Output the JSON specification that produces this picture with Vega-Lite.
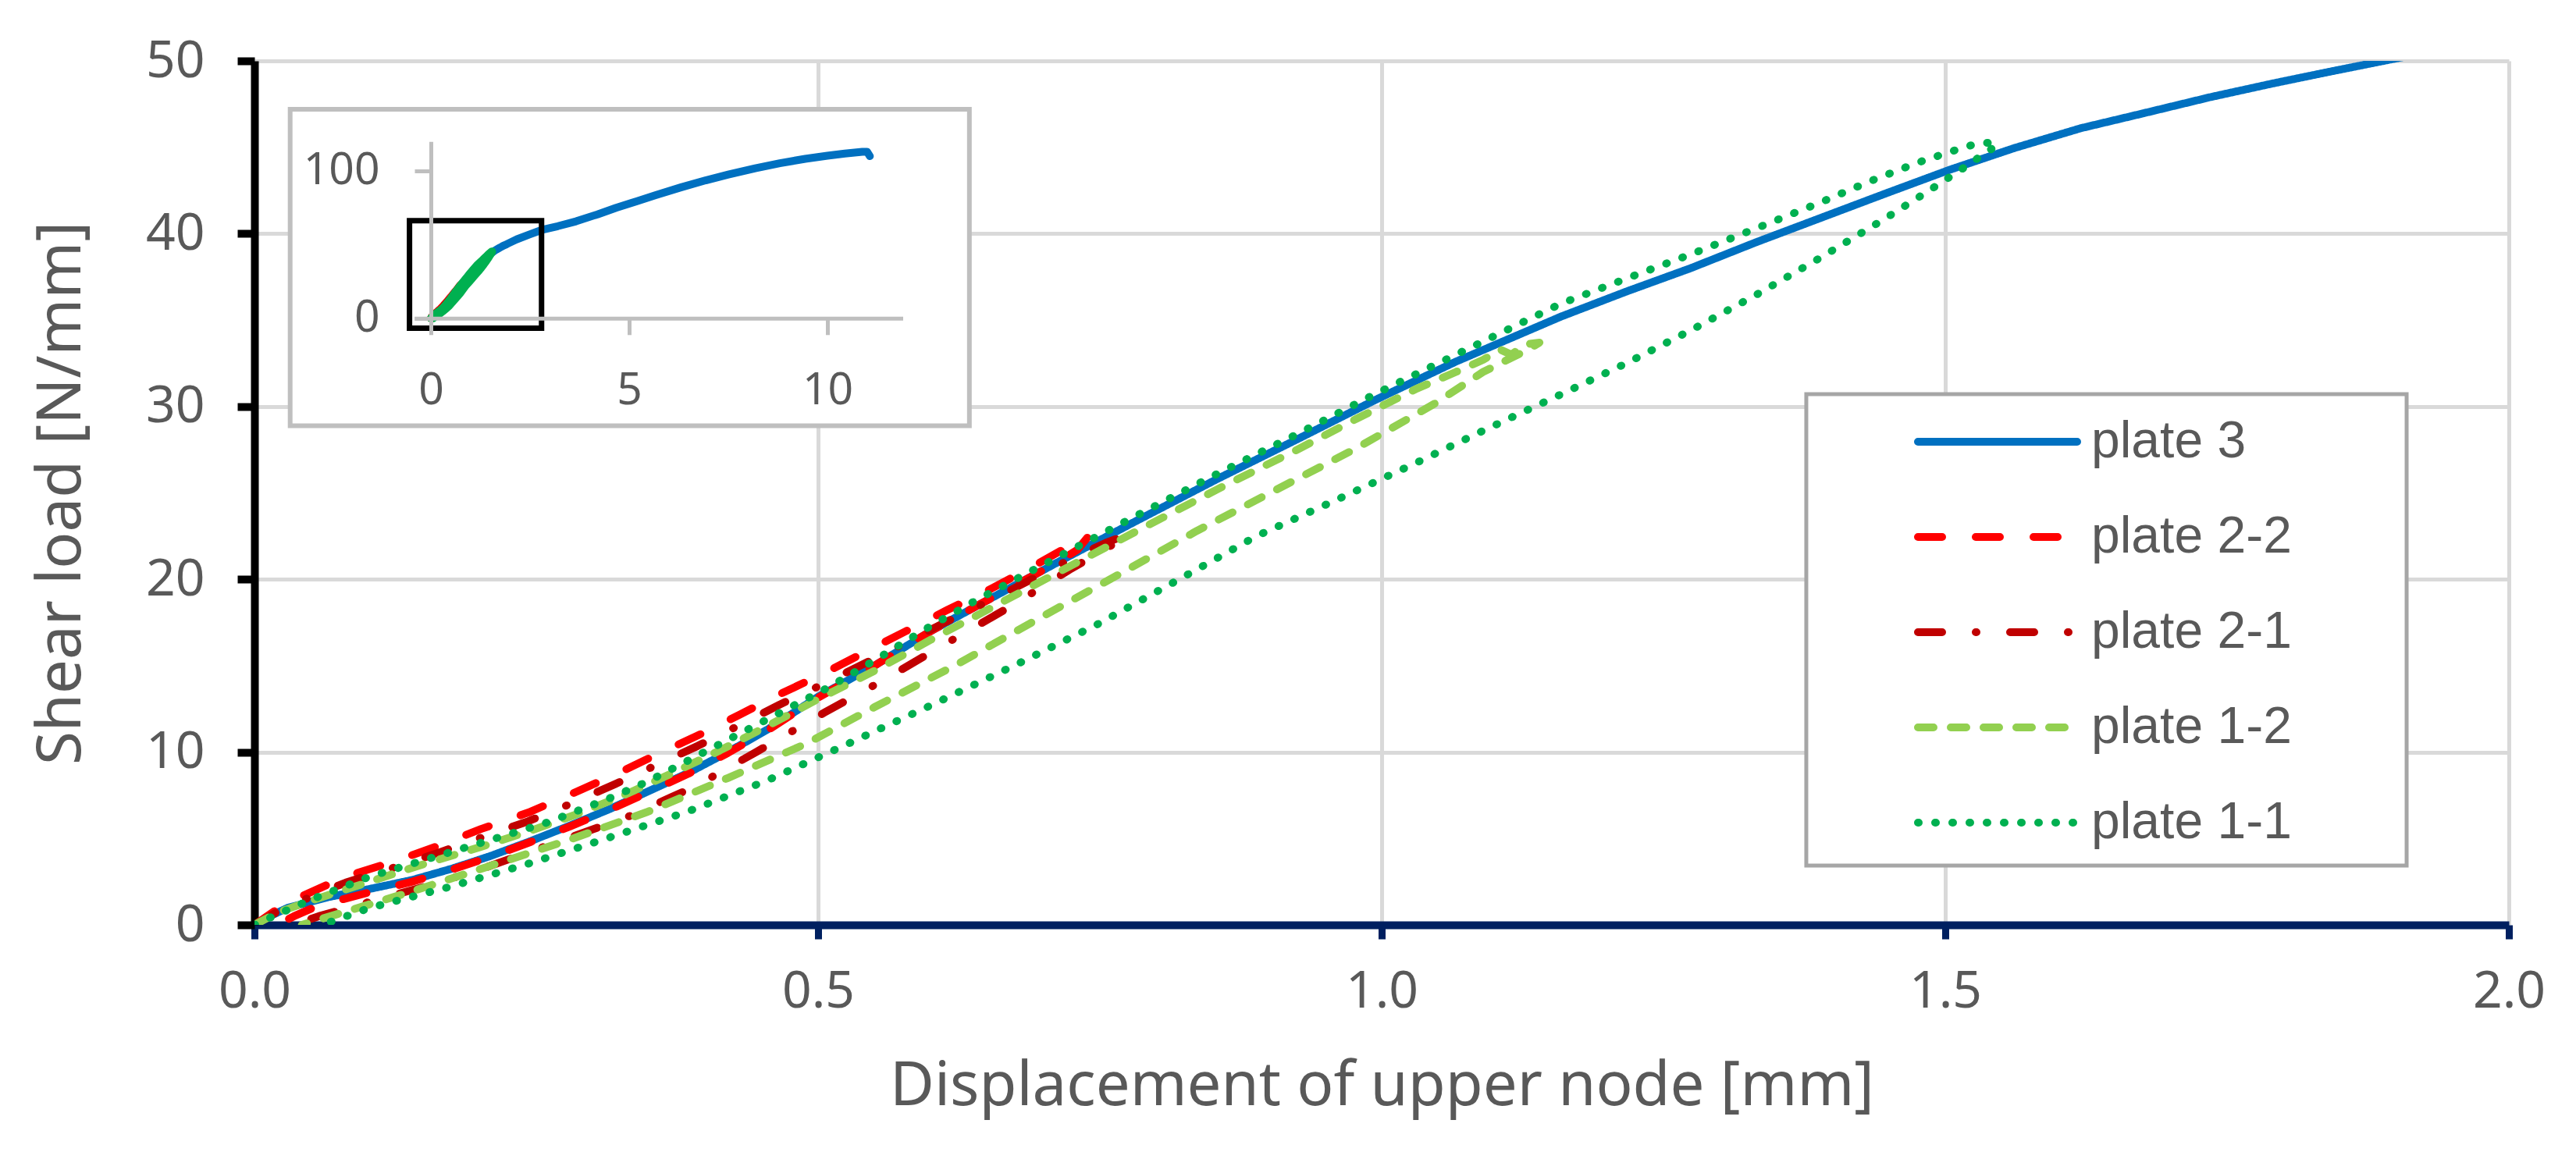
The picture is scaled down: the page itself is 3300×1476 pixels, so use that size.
{
  "$schema": "https://vega.github.io/schema/vega-lite/v6.json",
  "width": 2888,
  "height": 1107,
  "autosize": "none",
  "padding": {"left": 326, "top": 78, "right": 86, "bottom": 291},
  "background": "white",
  "config": {"view": {"stroke": null}, "font": "Noto Sans"},
  "datasets": {
    "pts": [
      {"s":"plate 3","i":0,"x":0,"y":0},{"s":"plate 3","i":1,"x":0.015,"y":0.55},{"s":"plate 3","i":2,"x":0.03,"y":1.0},{"s":"plate 3","i":3,"x":0.065,"y":1.6},{"s":"plate 3","i":4,"x":0.1,"y":2.05},{"s":"plate 3","i":5,"x":0.14,"y":2.6},{"s":"plate 3","i":6,"x":0.175,"y":3.25},{"s":"plate 3","i":7,"x":0.21,"y":4.0},{"s":"plate 3","i":8,"x":0.245,"y":4.85},{"s":"plate 3","i":9,"x":0.28,"y":5.75},{"s":"plate 3","i":10,"x":0.315,"y":6.7},{"s":"plate 3","i":11,"x":0.35,"y":7.75},{"s":"plate 3","i":12,"x":0.385,"y":8.8},{"s":"plate 3","i":13,"x":0.42,"y":10.0},{"s":"plate 3","i":14,"x":0.455,"y":11.3},{"s":"plate 3","i":15,"x":0.5,"y":13.2},{"s":"plate 3","i":16,"x":0.55,"y":15.0},{"s":"plate 3","i":17,"x":0.6,"y":17.0},{"s":"plate 3","i":18,"x":0.642,"y":18.5},{"s":"plate 3","i":19,"x":0.713,"y":21.0},{"s":"plate 3","i":20,"x":0.783,"y":23.4},{"s":"plate 3","i":21,"x":0.854,"y":25.8},{"s":"plate 3","i":22,"x":0.925,"y":28.1},{"s":"plate 3","i":23,"x":0.995,"y":30.4},{"s":"plate 3","i":24,"x":1.066,"y":32.6},{"s":"plate 3","i":25,"x":1.159,"y":35.2},{"s":"plate 3","i":26,"x":1.217,"y":36.65},{"s":"plate 3","i":27,"x":1.274,"y":38.0},{"s":"plate 3","i":28,"x":1.332,"y":39.5},{"s":"plate 3","i":29,"x":1.389,"y":40.9},{"s":"plate 3","i":30,"x":1.446,"y":42.3},{"s":"plate 3","i":31,"x":1.504,"y":43.7},{"s":"plate 3","i":32,"x":1.561,"y":44.95},{"s":"plate 3","i":33,"x":1.62,"y":46.1},{"s":"plate 3","i":34,"x":1.676,"y":46.97},{"s":"plate 3","i":35,"x":1.735,"y":47.9},{"s":"plate 3","i":36,"x":1.791,"y":48.7},{"s":"plate 3","i":37,"x":1.84,"y":49.36},{"s":"plate 3","i":38,"x":1.889,"y":50.0},{"s":"plate 3","i":39,"x":1.95,"y":50.8},{"s":"plate 3","i":40,"x":2.16,"y":53.5},{"s":"plate 3","i":41,"x":2.5,"y":57.0},{"s":"plate 3","i":42,"x":2.79,"y":59.9},{"s":"plate 3","i":43,"x":3.2,"y":62.5},{"s":"plate 3","i":44,"x":3.66,"y":65.8},{"s":"plate 3","i":45,"x":4.2,"y":70.5},{"s":"plate 3","i":46,"x":4.67,"y":75.0},{"s":"plate 3","i":47,"x":5.2,"y":79.5},{"s":"plate 3","i":48,"x":5.67,"y":83.6},{"s":"plate 3","i":49,"x":6.3,"y":88.8},{"s":"plate 3","i":50,"x":6.93,"y":93.6},{"s":"plate 3","i":51,"x":7.5,"y":97.5},{"s":"plate 3","i":52,"x":8.18,"y":101.8},{"s":"plate 3","i":53,"x":8.8,"y":105.2},{"s":"plate 3","i":54,"x":9.44,"y":108.2},{"s":"plate 3","i":55,"x":10.0,"y":110.3},{"s":"plate 3","i":56,"x":10.44,"y":111.8},{"s":"plate 3","i":57,"x":10.88,"y":113.0},{"s":"plate 3","i":58,"x":11.0,"y":113.0},{"s":"plate 3","i":59,"x":11.07,"y":110.0},

      {"s":"plate 2-2","i":0,"x":0,"y":0},{"s":"plate 2-2","i":1,"x":0.02,"y":0.9},{"s":"plate 2-2","i":2,"x":0.04,"y":1.6},{"s":"plate 2-2","i":3,"x":0.081,"y":2.8},{"s":"plate 2-2","i":4,"x":0.123,"y":3.65},{"s":"plate 2-2","i":5,"x":0.162,"y":4.55},{"s":"plate 2-2","i":6,"x":0.201,"y":5.55},{"s":"plate 2-2","i":7,"x":0.243,"y":6.5},{"s":"plate 2-2","i":8,"x":0.282,"y":7.6},{"s":"plate 2-2","i":9,"x":0.32,"y":8.7},{"s":"plate 2-2","i":10,"x":0.355,"y":9.8},{"s":"plate 2-2","i":11,"x":0.393,"y":10.95},{"s":"plate 2-2","i":12,"x":0.43,"y":12.15},{"s":"plate 2-2","i":13,"x":0.466,"y":13.35},{"s":"plate 2-2","i":14,"x":0.505,"y":14.55},{"s":"plate 2-2","i":15,"x":0.545,"y":15.9},{"s":"plate 2-2","i":16,"x":0.578,"y":17.0},{"s":"plate 2-2","i":17,"x":0.614,"y":18.2},{"s":"plate 2-2","i":18,"x":0.652,"y":19.4},{"s":"plate 2-2","i":19,"x":0.688,"y":20.65},{"s":"plate 2-2","i":20,"x":0.725,"y":22.0},{"s":"plate 2-2","i":21,"x":0.74,"y":22.5},{"s":"plate 2-2","i":22,"x":0.73,"y":21.7},{"s":"plate 2-2","i":23,"x":0.713,"y":21.0},{"s":"plate 2-2","i":24,"x":0.642,"y":18.5},{"s":"plate 2-2","i":25,"x":0.6,"y":17.0},{"s":"plate 2-2","i":26,"x":0.55,"y":15.0},{"s":"plate 2-2","i":27,"x":0.5,"y":13.15},{"s":"plate 2-2","i":28,"x":0.455,"y":11.25},{"s":"plate 2-2","i":29,"x":0.42,"y":9.95},{"s":"plate 2-2","i":30,"x":0.385,"y":8.75},{"s":"plate 2-2","i":31,"x":0.35,"y":7.7},{"s":"plate 2-2","i":32,"x":0.315,"y":6.65},{"s":"plate 2-2","i":33,"x":0.28,"y":5.7},{"s":"plate 2-2","i":34,"x":0.245,"y":4.8},{"s":"plate 2-2","i":35,"x":0.21,"y":3.95},{"s":"plate 2-2","i":36,"x":0.175,"y":3.2},{"s":"plate 2-2","i":37,"x":0.14,"y":2.5},{"s":"plate 2-2","i":38,"x":0.1,"y":1.85},{"s":"plate 2-2","i":39,"x":0.056,"y":1.1},{"s":"plate 2-2","i":40,"x":0.035,"y":0.5},{"s":"plate 2-2","i":41,"x":0.02,"y":0.0},

      {"s":"plate 2-1","i":0,"x":0,"y":0},{"s":"plate 2-1","i":1,"x":0.02,"y":0.75},{"s":"plate 2-1","i":2,"x":0.04,"y":1.35},{"s":"plate 2-1","i":3,"x":0.081,"y":2.45},{"s":"plate 2-1","i":4,"x":0.123,"y":3.3},{"s":"plate 2-1","i":5,"x":0.162,"y":4.15},{"s":"plate 2-1","i":6,"x":0.201,"y":5.05},{"s":"plate 2-1","i":7,"x":0.243,"y":6.0},{"s":"plate 2-1","i":8,"x":0.282,"y":7.05},{"s":"plate 2-1","i":9,"x":0.32,"y":8.15},{"s":"plate 2-1","i":10,"x":0.355,"y":9.2},{"s":"plate 2-1","i":11,"x":0.393,"y":10.35},{"s":"plate 2-1","i":12,"x":0.43,"y":11.55},{"s":"plate 2-1","i":13,"x":0.466,"y":12.75},{"s":"plate 2-1","i":14,"x":0.505,"y":13.95},{"s":"plate 2-1","i":15,"x":0.545,"y":15.25},{"s":"plate 2-1","i":16,"x":0.578,"y":16.35},{"s":"plate 2-1","i":17,"x":0.614,"y":17.55},{"s":"plate 2-1","i":18,"x":0.652,"y":18.75},{"s":"plate 2-1","i":19,"x":0.688,"y":19.95},{"s":"plate 2-1","i":20,"x":0.725,"y":21.2},{"s":"plate 2-1","i":21,"x":0.755,"y":22.1},{"s":"plate 2-1","i":22,"x":0.775,"y":22.6},{"s":"plate 2-1","i":23,"x":0.772,"y":22.4},{"s":"plate 2-1","i":24,"x":0.723,"y":20.55},{"s":"plate 2-1","i":25,"x":0.67,"y":18.4},{"s":"plate 2-1","i":26,"x":0.614,"y":16.3},{"s":"plate 2-1","i":27,"x":0.559,"y":14.2},{"s":"plate 2-1","i":28,"x":0.506,"y":12.3},{"s":"plate 2-1","i":29,"x":0.445,"y":10.0},{"s":"plate 2-1","i":30,"x":0.392,"y":8.05},{"s":"plate 2-1","i":31,"x":0.331,"y":6.25},{"s":"plate 2-1","i":32,"x":0.271,"y":4.85},{"s":"plate 2-1","i":33,"x":0.2,"y":3.2},{"s":"plate 2-1","i":34,"x":0.15,"y":2.2},{"s":"plate 2-1","i":35,"x":0.1,"y":1.3},{"s":"plate 2-1","i":36,"x":0.057,"y":0.5},{"s":"plate 2-1","i":37,"x":0.035,"y":0.0},

      {"s":"plate 1-2","i":0,"x":0,"y":0},{"s":"plate 1-2","i":1,"x":0.02,"y":0.7},{"s":"plate 1-2","i":2,"x":0.05,"y":1.4},{"s":"plate 1-2","i":3,"x":0.1,"y":2.45},{"s":"plate 1-2","i":4,"x":0.144,"y":3.39},{"s":"plate 1-2","i":5,"x":0.2,"y":4.5},{"s":"plate 1-2","i":6,"x":0.243,"y":5.4},{"s":"plate 1-2","i":7,"x":0.29,"y":6.5},{"s":"plate 1-2","i":8,"x":0.331,"y":7.6},{"s":"plate 1-2","i":9,"x":0.373,"y":8.85},{"s":"plate 1-2","i":10,"x":0.413,"y":10.1},{"s":"plate 1-2","i":11,"x":0.455,"y":11.5},{"s":"plate 1-2","i":12,"x":0.498,"y":13.0},{"s":"plate 1-2","i":13,"x":0.55,"y":14.7},{"s":"plate 1-2","i":14,"x":0.6,"y":16.5},{"s":"plate 1-2","i":15,"x":0.642,"y":17.95},{"s":"plate 1-2","i":16,"x":0.713,"y":20.4},{"s":"plate 1-2","i":17,"x":0.783,"y":22.8},{"s":"plate 1-2","i":18,"x":0.854,"y":25.2},{"s":"plate 1-2","i":19,"x":0.925,"y":27.5},{"s":"plate 1-2","i":20,"x":0.978,"y":29.3},{"s":"plate 1-2","i":21,"x":1.03,"y":31.0},{"s":"plate 1-2","i":22,"x":1.066,"y":32.0},{"s":"plate 1-2","i":23,"x":1.09,"y":32.7},{"s":"plate 1-2","i":24,"x":1.105,"y":33.3},{"s":"plate 1-2","i":25,"x":1.115,"y":33.0},{"s":"plate 1-2","i":26,"x":1.128,"y":33.6},{"s":"plate 1-2","i":27,"x":1.14,"y":33.7},{"s":"plate 1-2","i":28,"x":1.13,"y":33.3},{"s":"plate 1-2","i":29,"x":1.09,"y":32.0},{"s":"plate 1-2","i":30,"x":1.048,"y":30.2},{"s":"plate 1-2","i":31,"x":0.978,"y":27.6},{"s":"plate 1-2","i":32,"x":0.907,"y":25.2},{"s":"plate 1-2","i":33,"x":0.836,"y":22.8},{"s":"plate 1-2","i":34,"x":0.766,"y":20.25},{"s":"plate 1-2","i":35,"x":0.695,"y":17.7},{"s":"plate 1-2","i":36,"x":0.624,"y":15.1},{"s":"plate 1-2","i":37,"x":0.55,"y":12.6},{"s":"plate 1-2","i":38,"x":0.49,"y":10.5},{"s":"plate 1-2","i":39,"x":0.42,"y":8.5},{"s":"plate 1-2","i":40,"x":0.349,"y":6.55},{"s":"plate 1-2","i":41,"x":0.278,"y":4.89},{"s":"plate 1-2","i":42,"x":0.208,"y":3.39},{"s":"plate 1-2","i":43,"x":0.137,"y":1.88},{"s":"plate 1-2","i":44,"x":0.084,"y":0.83},{"s":"plate 1-2","i":45,"x":0.042,"y":0.0},

      {"s":"plate 1-1","i":0,"x":0,"y":0},{"s":"plate 1-1","i":1,"x":0.02,"y":0.6},{"s":"plate 1-1","i":2,"x":0.049,"y":1.43},{"s":"plate 1-1","i":3,"x":0.102,"y":2.79},{"s":"plate 1-1","i":4,"x":0.155,"y":3.84},{"s":"plate 1-1","i":5,"x":0.208,"y":4.89},{"s":"plate 1-1","i":6,"x":0.261,"y":5.95},{"s":"plate 1-1","i":7,"x":0.314,"y":7.3},{"s":"plate 1-1","i":8,"x":0.349,"y":8.3},{"s":"plate 1-1","i":9,"x":0.402,"y":10.1},{"s":"plate 1-1","i":10,"x":0.455,"y":11.9},{"s":"plate 1-1","i":11,"x":0.508,"y":13.7},{"s":"plate 1-1","i":12,"x":0.55,"y":15.3},{"s":"plate 1-1","i":13,"x":0.6,"y":17.3},{"s":"plate 1-1","i":14,"x":0.642,"y":18.85},{"s":"plate 1-1","i":15,"x":0.713,"y":21.3},{"s":"plate 1-1","i":16,"x":0.783,"y":23.7},{"s":"plate 1-1","i":17,"x":0.854,"y":26.1},{"s":"plate 1-1","i":18,"x":0.925,"y":28.4},{"s":"plate 1-1","i":19,"x":0.995,"y":30.75},{"s":"plate 1-1","i":20,"x":1.066,"y":33.0},{"s":"plate 1-1","i":21,"x":1.159,"y":35.95},{"s":"plate 1-1","i":22,"x":1.217,"y":37.4},{"s":"plate 1-1","i":23,"x":1.274,"y":38.8},{"s":"plate 1-1","i":24,"x":1.332,"y":40.3},{"s":"plate 1-1","i":25,"x":1.389,"y":41.8},{"s":"plate 1-1","i":26,"x":1.432,"y":43.0},{"s":"plate 1-1","i":27,"x":1.475,"y":44.1},{"s":"plate 1-1","i":28,"x":1.505,"y":44.75},{"s":"plate 1-1","i":29,"x":1.527,"y":45.2},{"s":"plate 1-1","i":30,"x":1.545,"y":45.3},{"s":"plate 1-1","i":31,"x":1.542,"y":44.95},{"s":"plate 1-1","i":32,"x":1.515,"y":43.75},{"s":"plate 1-1","i":33,"x":1.481,"y":42.3},{"s":"plate 1-1","i":34,"x":1.446,"y":40.85},{"s":"plate 1-1","i":35,"x":1.389,"y":38.6},{"s":"plate 1-1","i":36,"x":1.332,"y":36.45},{"s":"plate 1-1","i":37,"x":1.274,"y":34.4},{"s":"plate 1-1","i":38,"x":1.217,"y":32.5},{"s":"plate 1-1","i":39,"x":1.159,"y":30.7},{"s":"plate 1-1","i":40,"x":1.09,"y":28.6},{"s":"plate 1-1","i":41,"x":1.031,"y":26.75},{"s":"plate 1-1","i":42,"x":0.96,"y":24.6},{"s":"plate 1-1","i":43,"x":0.889,"y":22.5},{"s":"plate 1-1","i":44,"x":0.819,"y":19.95},{"s":"plate 1-1","i":45,"x":0.748,"y":17.4},{"s":"plate 1-1","i":46,"x":0.677,"y":15.1},{"s":"plate 1-1","i":47,"x":0.6,"y":12.7},{"s":"plate 1-1","i":48,"x":0.55,"y":11.2},{"s":"plate 1-1","i":49,"x":0.526,"y":10.46},{"s":"plate 1-1","i":50,"x":0.455,"y":8.36},{"s":"plate 1-1","i":51,"x":0.384,"y":6.55},{"s":"plate 1-1","i":52,"x":0.314,"y":5.04},{"s":"plate 1-1","i":53,"x":0.243,"y":3.54},{"s":"plate 1-1","i":54,"x":0.172,"y":2.18},{"s":"plate 1-1","i":55,"x":0.102,"y":0.98},{"s":"plate 1-1","i":56,"x":0.06,"y":0.0}
    ]
  },
  "layer": [
    {
      "data": {"name": "pts"},
      "encoding": {
        "x": {"field": "x", "type": "quantitative",
          "scale": {"domain": [0, 2], "nice": false, "zero": false},
          "axis": {"title": "Displacement of upper node [mm]", "values": [0, 0.5, 1, 1.5, 2], "format": ".1f",
            "labelFont": "Noto Sans", "labelFontSize": 66, "labelColor": "#595959", "labelPadding": 35, "labelFlush": false, "labelOverlap": false,
            "tickSize": 18, "tickWidth": 9, "tickColor": "#002060", "domainColor": "#002060", "domainWidth": 10,
            "grid": true, "gridColor": "#D9D9D9", "gridWidth": 5,
            "titleFont": "Noto Sans", "titleFontSize": 78, "titleFontWeight": "normal", "titleColor": "#595959",
            "titleX": 1444, "titleY": 230, "titleBaseline": "alphabetic", "titleAlign": "center"}},
        "y": {"field": "y", "type": "quantitative",
          "scale": {"domain": [0, 50], "nice": false, "zero": false},
          "axis": {"title": "Shear load [N/mm]", "values": [0, 10, 20, 30, 40, 50],
            "labelFont": "Noto Sans", "labelFontSize": 66, "labelColor": "#595959", "labelPadding": 42, "labelFlush": false, "labelOverlap": false,
            "tickSize": 22, "tickWidth": 10, "tickColor": "#000000", "domainColor": "#000000", "domainWidth": 10,
            "grid": true, "gridColor": "#D9D9D9", "gridWidth": 5,
            "titleFont": "Noto Sans", "titleFontSize": 78, "titleFontWeight": "normal", "titleColor": "#595959",
            "titleX": -224, "titleY": 553.5, "titleAngle": 270, "titleBaseline": "alphabetic", "titleAlign": "center"}},
        "color": {"field": "s", "type": "nominal",
          "scale": {"domain": ["plate 3", "plate 2-2", "plate 2-1", "plate 1-2", "plate 1-1"], "range": ["#0070C0", "#FF0000", "#C00000", "#92D050", "#00B050"]},
          "legend": {"title": null, "orient": "none", "legendX": 1988, "legendY": 425,
            "padding": 30, "symbolType": "stroke", "symbolSize": 41616, "symbolStrokeWidth": 10, "symbolOffset": 108, "labelOffset": 13,
            "labelFont": "Liberation Sans", "labelFontSize": 66, "labelColor": "#595959", "clipHeight": 66, "rowPadding": 56, "labelLimit": 1000,
            "encode": {"symbols": {"update": {"strokeCap": {"value": "round"}}}}}},
        "strokeDash": {"field": "s", "type": "nominal",
          "scale": {"domain": ["plate 3", "plate 2-2", "plate 2-1", "plate 1-2", "plate 1-1"], "range": [[1, 0], [31, 43], [31, 43, 1, 43], [20, 22], [1, 21]]},
          "legend": {"title": null, "orient": "none", "legendX": 1988, "legendY": 425}},
        "order": {"field": "i", "type": "quantitative"}
      },
      "layer": [
        {"transform": [{"filter": "datum.s === 'plate 3'"}], "mark": {"type": "line", "clip": true, "strokeWidth": 10, "strokeCap": "round", "strokeJoin": "round"}},
        {"transform": [{"filter": "datum.s === 'plate 2-2'"}], "mark": {"type": "line", "clip": true, "strokeWidth": 10, "strokeCap": "round", "strokeJoin": "round"}},
        {"transform": [{"filter": "datum.s === 'plate 2-1'"}], "mark": {"type": "line", "clip": true, "strokeWidth": 10, "strokeCap": "round", "strokeJoin": "round"}},
        {"transform": [{"filter": "datum.s === 'plate 1-2'"}], "mark": {"type": "line", "clip": true, "strokeWidth": 10, "strokeCap": "round", "strokeJoin": "round"}},
        {"transform": [{"filter": "datum.s === 'plate 1-1'"}], "mark": {"type": "line", "clip": true, "strokeWidth": 10, "strokeCap": "round", "strokeJoin": "round"}}
      ]
    },
    {
      "layer": [
        {
          "data": {"values": [{}]},
          "mark": {"type": "rect", "fill": "white", "stroke": "#BFBFBF", "strokeWidth": 6},
          "encoding": {
            "x": {"datum": -3.55, "type": "quantitative",
              "scale": {"domain": [-0.42, 11.9], "range": [204.7, 830.5], "nice": false, "zero": false},
              "axis": {"orient": "bottom", "offset": -777.2, "zindex": 1, "title": null, "values": [0, 5, 10], "format": "d", "grid": false,
                "domainColor": "#BFBFBF", "domainWidth": 5, "tickColor": "#BFBFBF", "tickWidth": 5, "tickSize": 21,
                "labelFont": "Noto Sans", "labelFontSize": 57, "labelColor": "#595959", "labelPadding": 44, "labelFlush": false, "labelOverlap": false}},
            "x2": {"datum": 13.58},
            "y": {"datum": -72.9, "type": "quantitative",
              "scale": {"domain": [0, 120], "range": [329.8, 103.2], "nice": false, "zero": false},
              "axis": {"orient": "left", "offset": -226, "zindex": 1, "title": null, "values": [0, 100], "format": "d", "grid": false,
                "domainColor": "#BFBFBF", "domainWidth": 5, "tickColor": "#BFBFBF", "tickWidth": 5, "tickSize": 21,
                "labelFont": "Noto Sans", "labelFontSize": 57, "labelColor": "#595959", "labelPadding": 45, "labelFlush": false, "labelOverlap": false}},
            "y2": {"datum": 141.8}
          }
        },
        {
          "data": {"name": "pts"},
          "transform": [{"filter": "datum.s === 'plate 3'"}],
          "mark": {"type": "line", "strokeWidth": 10, "strokeCap": "round", "strokeJoin": "round"},
          "encoding": {
            "x": {"field": "x", "type": "quantitative"},
            "y": {"field": "y", "type": "quantitative"},
            "stroke": {"field": "s", "type": "nominal", "legend": null,
              "scale": {"domain": ["plate 3", "plate 2-2", "plate 2-1", "plate 1-2", "plate 1-1"], "range": ["#0070C0", "#FF0000", "#C00000", "#92D050", "#00B050"]}},
            "order": {"field": "i", "type": "quantitative"}
          }
        },
        {
          "data": {"name": "pts"},
          "transform": [{"filter": "datum.s === 'plate 2-2' || datum.s === 'plate 2-1' || datum.s === 'plate 1-2'"}],
          "mark": {"type": "line", "strokeWidth": 10, "strokeCap": "round", "strokeJoin": "round"},
          "encoding": {
            "x": {"field": "x", "type": "quantitative"},
            "y": {"field": "y", "type": "quantitative"},
            "stroke": {"field": "s", "type": "nominal", "legend": null},
            "order": {"field": "i", "type": "quantitative"}
          }
        },
        {
          "data": {"name": "pts"},
          "transform": [{"filter": "datum.s === 'plate 1-1'"}],
          "mark": {"type": "line", "strokeWidth": 10, "strokeCap": "round", "strokeJoin": "round"},
          "encoding": {
            "x": {"field": "x", "type": "quantitative"},
            "y": {"field": "y", "type": "quantitative"},
            "stroke": {"field": "s", "type": "nominal", "legend": null},
            "order": {"field": "i", "type": "quantitative"}
          }
        },
        {
          "data": {"values": [{}]},
          "mark": {"type": "rect", "fill": "transparent", "stroke": "#000000", "strokeWidth": 7},
          "encoding": {
            "x": {"datum": -0.54, "type": "quantitative"},
            "x2": {"datum": 2.79},
            "y": {"datum": -6.7, "type": "quantitative"},
            "y2": {"datum": 66.2}
          }
        }
      ]
    },
    {
      "data": {"values": [{"frame": "legend"}]},
      "mark": {"type": "rect", "fill": "white", "stroke": "#A6A6A6", "strokeWidth": 5},
      "encoding": {
        "x": {"datum": 1.3767, "type": "quantitative", "scale": {"domain": [0, 2], "nice": false, "zero": false}, "axis": null},
        "x2": {"datum": 1.9093},
        "y": {"datum": 3.43, "type": "quantitative", "scale": {"domain": [0, 50], "nice": false, "zero": false}, "axis": null},
        "y2": {"datum": 30.71}
      }
    }
  ],
  "resolve": {"scale": {"x": "independent", "y": "independent"}}
}
